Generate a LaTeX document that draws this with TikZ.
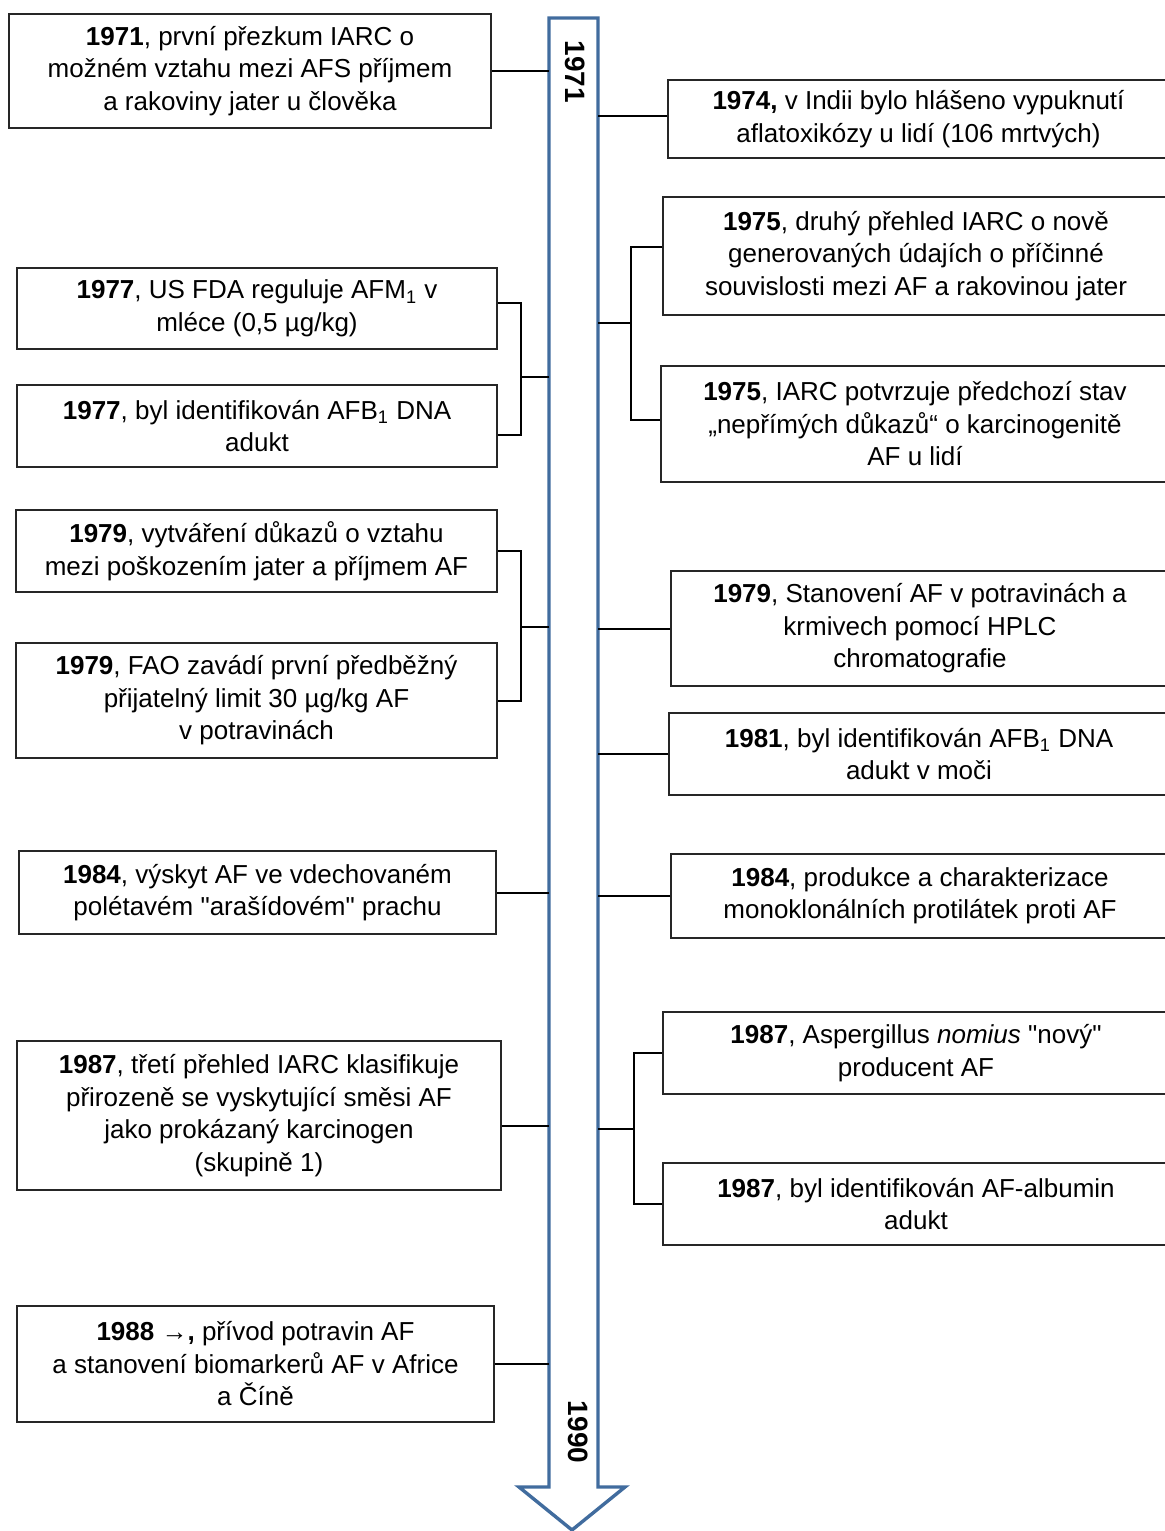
\documentclass[tikz,border=0pt]{standalone}
\usepackage{fontspec}
\setmainfont{Liberation Sans}
\definecolor{arrowblue}{RGB}{65,108,158}

\begin{document}
\begin{tikzpicture}[x=0.5pt,y=-0.5pt,
    evbox/.style={draw=black!85,line width=0.75pt,align=center,inner sep=0pt,
      font=\fontsize{13}{16.25}\selectfont},
    link/.style={line width=1pt},
    yearlabel/.style={font=\fontsize{14}{16}\selectfont\bfseries,rotate=-90}]
    \useasboundingbox (0,0) rectangle (1165,1531);

    % Draw the timeline arrow
    \draw[arrowblue,line width=1.7pt,line join=miter] (549,18) -- (598,18) -- (598,1487) -- (625,1487)
        -- (572,1530) -- (519,1487) -- (549,1487) -- cycle;
    \coordinate (axL) at (549,0);
    \coordinate (axR) at (598,0);
    \node[yearlabel] (y1971) at (575,72) {1971};
    \node[yearlabel] (y1990) at (578,1432) {1990};

    % Left events
    \node[evbox,minimum width=241pt,minimum height=57pt] (l1) at (250,71)
        {\textbf{1971}, první přezkum IARC o\\možném vztahu mezi AFS příjmem\\a rakoviny jater u člověka};
    \node[evbox,minimum width=240pt,minimum height=40.5pt] (l2) at (257,308.5)
        {\textbf{1977}, US FDA reguluje AFM\textsubscript{1} v\\mléce (0,5 µg/kg)};
    \node[evbox,minimum width=240pt,minimum height=41pt] (l3) at (257,426)
        {\textbf{1977}, byl identifikován AFB\textsubscript{1} DNA\\adukt};
    \node[evbox,minimum width=240.5pt,minimum height=41pt] (l4) at (256.5,551)
        {\textbf{1979}, vytváření důkazů o vztahu\\mezi poškozením jater a příjmem AF};
    \node[evbox,minimum width=240.5pt,minimum height=57.5pt] (l5) at (256.5,700.5)
        {\textbf{1979}, FAO zavádí první předběžný\\přijatelný limit 30 µg/kg AF\\v potravinách};
    \node[evbox,minimum width=238.5pt,minimum height=41.5pt] (l6) at (257.5,892.5)
        {\textbf{1984}, výskyt AF ve vdechovaném\\polétavém \textquotedbl arašídovém\textquotedbl{} prachu};
    \node[evbox,minimum width=242pt,minimum height=74.5pt] (l7) at (259,1115.5)
        {\textbf{1987}, třetí přehled IARC klasifikuje\\přirozeně se vyskytující směsi AF\\jako prokázaný karcinogen\\(skupině 1)};
    \node[evbox,minimum width=238.5pt,minimum height=58pt] (l8) at (255.5,1364)
        {\textbf{1988 →,} přívod potravin AF\\a stanovení biomarkerů AF v Africe\\a Číně};

    % Right events
    \node[evbox,minimum width=250.5pt,minimum height=39pt] (r1) at (918.5,119)
        {\textbf{1974,} v Indii bylo hlášeno vypuknutí\\aflatoxikózy u lidí (106 mrtvých)};
    \node[evbox,minimum width=253pt,minimum height=59pt] (r2) at (916,256)
        {\textbf{1975}, druhý přehled IARC o nově\\generovaných údajích o příčinné\\souvislosti mezi AF a rakovinou jater};
    \node[evbox,minimum width=254pt,minimum height=58pt] (r3) at (915,424)
        {\textbf{1975}, IARC potvrzuje předchozí stav\\„nepřímých důkazů“ o karcinogenitě\\AF u lidí};
    \node[evbox,minimum width=249pt,minimum height=57.5pt] (r4) at (920,628.5)
        {\textbf{1979}, Stanovení AF v potravinách a\\krmivech pomocí HPLC\\chromatografie};
    \node[evbox,minimum width=250pt,minimum height=41pt] (r5) at (919,754)
        {\textbf{1981}, byl identifikován AFB\textsubscript{1} DNA\\adukt v moči};
    \node[evbox,minimum width=249pt,minimum height=42pt] (r6) at (920,896)
        {\textbf{1984}, produkce a charakterizace\\monoklonálních protilátek proti AF};
    \node[evbox,minimum width=253pt,minimum height=41pt] (r7) at (916,1053)
        {\textbf{1987}, Aspergillus \textit{nomius} \textquotedbl nový\textquotedbl\\producent AF};
    \node[evbox,minimum width=253pt,minimum height=41pt] (r8) at (916,1204)
        {\textbf{1987}, byl identifikován AF-albumin\\adukt};

    % Single links to the arrow
    \draw[link] (l1.east) -- (l1.east -| axL);
    \draw[link] (l6.east) -- (l6.east -| axL);
    \draw[link] ([yshift=-5.25pt]l7.east) -- ([yshift=-5.25pt]l7.east -| axL);
    \draw[link] (l8.east) -- (l8.east -| axL);
    \draw[link] ([yshift=1.5pt]r1.west) -- ([yshift=1.5pt]r1.west -| axR);
    \draw[link] (r4.west) -- (r4.west -| axR);
    \draw[link] (r5.west) -- (r5.west -| axR);
    \draw[link] (r6.west) -- (r6.west -| axR);

    % Brackets for pairs
    \coordinate (bl1) at (521,377);
    \coordinate (bl2) at (521,627);
    \coordinate (br1) at (631,323);
    \coordinate (br2) at (634,1129);
    \draw[link] ([yshift=2.75pt]l2.east) -| (bl1) |- ([yshift=-4.5pt]l3.east);
    \draw[link] (bl1) -- (bl1 -| axL);
    \draw[link] (l4.east) -| (bl2) |- (l5.east);
    \draw[link] (bl2) -- (bl2 -| axL);
    \draw[link] ([yshift=4.5pt]r2.west) -| (br1) |- ([yshift=2pt]r3.west);
    \draw[link] (br1) -- (br1 -| axR);
    \draw[link] (r7.west) -| (br2) |- (r8.west);
    \draw[link] (br2) -- (br2 -| axR);
\end{tikzpicture}
\end{document}
